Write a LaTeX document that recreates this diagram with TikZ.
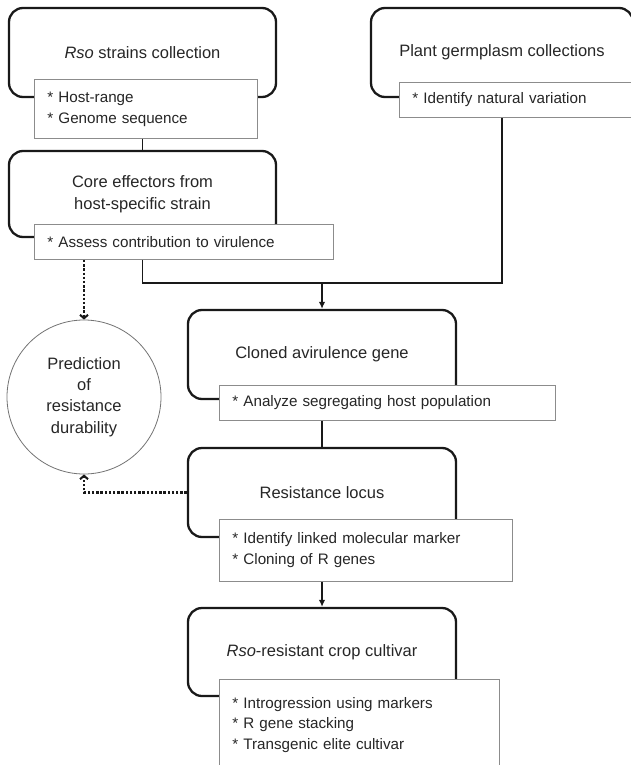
\documentclass[tikz,border=0pt]{standalone}
\usepackage{fontspec}
\setmainfont{Liberation Sans}
\usetikzlibrary{arrows.meta, positioning, calc}

\begin{document}
\begin{tikzpicture}[
        x=1pt, y=-1pt,
        stage/.style={rectangle, draw=black!90, line width=2.3pt, rounded corners=14pt, minimum width=267pt, minimum height=89pt, align=center, text=black!85, font=\fontsize{16.5}{21.5}\selectfont},
        task/.style={rectangle, draw=black!45, fill=white, line width=0.9pt, anchor=north west, align=left, inner xsep=13pt, inner ysep=0pt, text=black!85, font=\fontsize{15.2}{20.8}\selectfont},
        outcome/.style={circle, draw=black!55, line width=0.8pt, minimum size=154pt, align=center, text=black!85, font=\fontsize{16.5}{21.3}\selectfont},
        arrow/.style={-{Latex[length=7pt, width=6.5pt]}},
        flow/.style={line width=1.9pt, black!90},
        hint/.style={line width=2.4pt, black!90, dash pattern=on 2.4pt off 1.8pt, -{Straight Barb[length=3.5pt, width=8pt, line width=2pt]}}
    ]
    \useasboundingbox (0,0) rectangle (631,765);

    % Pathogen side
    \node (B1) [stage] at (142.5,52.5) {\textit{Rso} strains collection};
    \node (B2) [stage, minimum height=86pt] at (142.5,194) {Core effectors from\\host-specific strain};
    \node (S1) [task, text width=197pt, minimum height=59pt] at (34,79) {* Host-range\\{}* Genome sequence};
    \node (S2) [task, text width=273pt, minimum height=35pt] at (34,224) {* Assess contribution to virulence};

    % Host side
    \node (B3) [stage, minimum width=262pt] at (502,52.5) {Plant germplasm collections};
    \node (S3) [task, text width=215pt, minimum height=35pt] at (399,82) {* Identify natural variation};

    % Main line
    \node (B4) [stage, minimum width=268pt] at (322,354.5) {Cloned avirulence gene};
    \node (B5) [stage, minimum width=268pt] at (322,492.5) {Resistance locus};
    \node (B6) [stage, minimum width=268pt, minimum height=88pt] at (322,652) {\textit{Rso}-resistant crop cultivar};
    \node (S4) [task, text width=310pt, minimum height=35pt] at (219,385) {* Analyze segregating host population};
    \node (S5) [task, text width=267pt, minimum height=62pt] at (219,519) {* Identify linked molecular marker\\{}* Cloning of R genes};
    \node (S6) [task, text width=254pt, minimum height=91pt] at (219,679) {* Introgression using markers\\{}* R gene stacking\\{}* Transgenic elite cultivar};

    % Durability
    \node (P) [outcome] at (84,397) {Prediction\\of\\resistance\\durability};

    % Connectors
    \coordinate (merge) at (322,283);
    \draw[flow] (B2.north |- S1.south) -- (B2.north);
    \draw[flow] (B2.south |- S2.south) |- (merge) -| (B3.south |- S3.south);
    \draw[flow, arrow] (merge) -- (B4.north);
    \draw[flow] (B5.north |- S4.south) -- (B5.north);
    \draw[flow, arrow] (B6.north |- S5.south) -- (B6.north);
    \draw[hint] (P.north |- S2.south) -- (P.north);
    \draw[hint] (B5.west) -| (P.south);
\end{tikzpicture}
\end{document}
